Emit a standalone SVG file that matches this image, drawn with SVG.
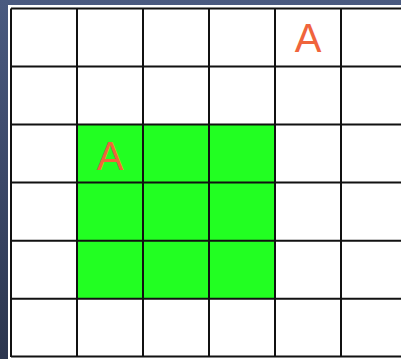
<svg xmlns="http://www.w3.org/2000/svg" width="401" height="359" viewBox="0 0 401 359">
  <defs>
    <linearGradient id="bg" x1="0" y1="0" x2="0" y2="1">
      <stop offset="0" stop-color="#4a5a80"/>
      <stop offset="1" stop-color="#2c3650"/>
    </linearGradient>
    <style>
      .grid line { stroke: #111; stroke-width: 2; }
      .lbl { font-family: "Liberation Sans", Arial, sans-serif; font-size: 40px; fill: #f0643c; text-anchor: middle; }
    </style>
  </defs>
  <rect x="0" y="0" width="401" height="359" fill="url(#bg)"/>
  <rect x="8" y="5" width="393" height="354" fill="#ffffff"/>
  <g id="green-block">
    <rect x="77" y="124.5" width="198" height="174.3" fill="#22ff22"/>
  </g>
  <g class="grid" id="grid">
    <line x1="11" y1="8.5" x2="11" y2="357"/>
    <line x1="77" y1="8.5" x2="77" y2="357"/>
    <line x1="143" y1="8.5" x2="143" y2="357"/>
    <line x1="209" y1="8.5" x2="209" y2="357"/>
    <line x1="275" y1="8.5" x2="275" y2="357"/>
    <line x1="341" y1="8.5" x2="341" y2="357"/>
    <line x1="11" y1="8.5" x2="401" y2="8.5"/>
    <line x1="11" y1="66.5" x2="401" y2="66.5"/>
    <line x1="11" y1="124.5" x2="401" y2="124.5"/>
    <line x1="11" y1="182.5" x2="401" y2="182.5"/>
    <line x1="11" y1="240.7" x2="401" y2="240.7"/>
    <line x1="11" y1="298.7" x2="401" y2="298.7"/>
    <line x1="11" y1="356.5" x2="401" y2="356.5"/>
  </g>
  <g id="label-a1"><text class="lbl" x="308" y="52">A</text></g>
  <g id="label-a2"><text class="lbl" x="110" y="169.5">A</text></g>
</svg>
